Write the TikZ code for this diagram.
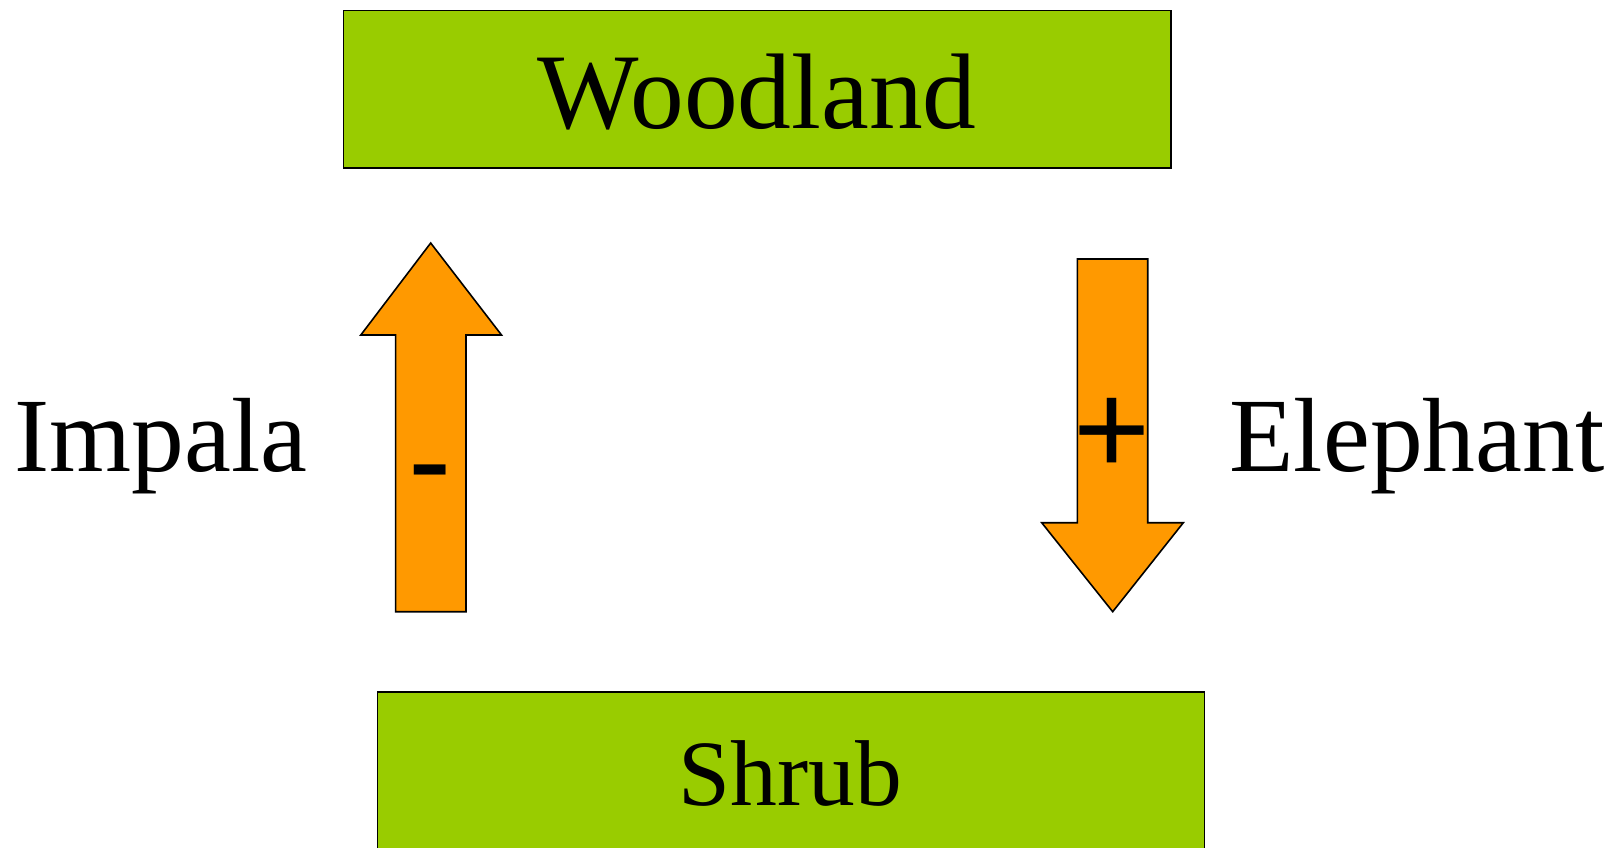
\documentclass[tikz,border=0pt]{standalone}
\usepackage{fontspec}
\setmainfont{Liberation Serif}
\newfontfamily\signfont{Liberation Sans}
\definecolor{leafgreen}{HTML}{99CC00}
\definecolor{floworange}{HTML}{FF9900}
\begin{document}
\begin{tikzpicture}[x=1pt,y=-1pt,
  box/.style={draw=black,line width=1.6pt,fill=leafgreen},
  blockarrow/.style={draw=black,line width=1.6pt,fill=floworange,line join=miter},
  label/.style={inner sep=0pt,anchor=base,text=black},
  sign/.style={inner sep=0pt,anchor=center,text=black}]
\useasboundingbox (0,0) rectangle (1623,847);
\clip (0,0) rectangle (1623,847);

% habitat boxes
\draw[box] (343.6,10.4) rectangle (1171,167.7);
\draw[box] (377.5,692) rectangle (1204.5,880);
\node[label,font=\fontsize{107.5}{112}\selectfont] (woodland) at (757,128.5) {Woodland};
\node[label,font=\fontsize{93.5}{100}\selectfont] (shrub) at (790.5,805.5) {Shrub};

% impala pushes shrub back to woodland
\draw[blockarrow] (430.7,243) -- (501.5,335) -- (466,335) -- (466,611.7)
  -- (395.6,611.7) -- (395.6,335) -- (360.8,335) -- cycle;
% elephant pushes woodland down to shrub
\draw[blockarrow] (1077.3,259) -- (1147.7,259) -- (1147.7,522.7) -- (1183.3,522.7)
  -- (1112.7,611.7) -- (1041.7,522.7) -- (1077.3,522.7) -- cycle;

\node[sign,font=\signfont\fontsize{130}{130}\selectfont] (minus) at (430,485) {-};
\node[sign,font=\signfont\fontsize{132}{132}\selectfont] (plus) at (1112.5,436) {+};

% agents
\node[label,font=\fontsize{105.5}{110}\selectfont] (impala) at (161,471.5) {Impala};
\node[label,font=\fontsize{105.5}{110}\selectfont] (elephant) at (1417,471) {Elephant};
\end{tikzpicture}
\end{document}
